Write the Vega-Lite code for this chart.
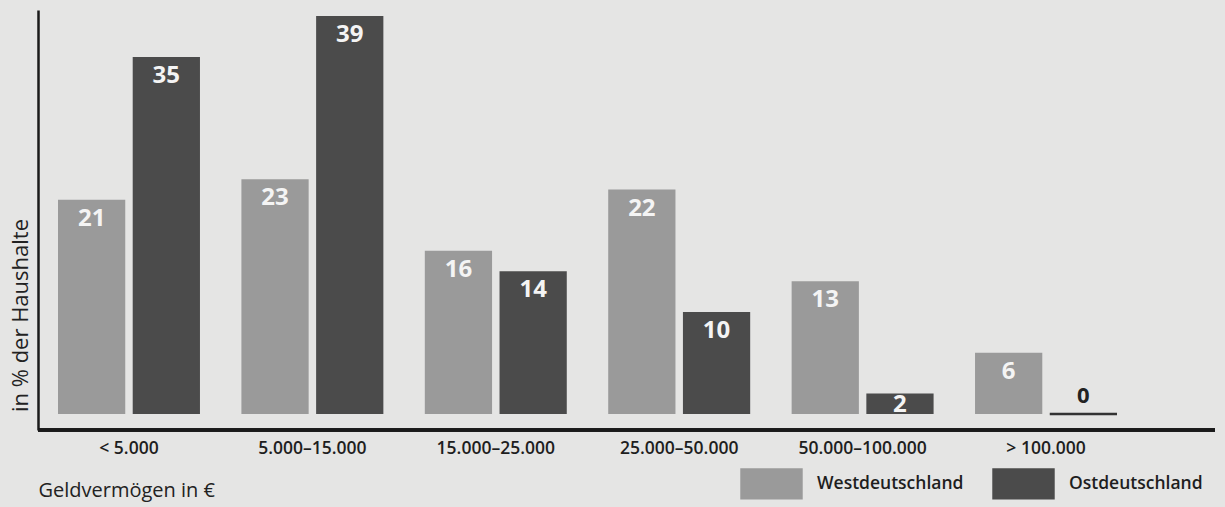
{
  "$schema": "https://vega.github.io/schema/vega-lite/v6.json",
  "width": 1177,
  "height": 420,
  "autosize": {"type": "none"},
  "padding": {"left": 38, "top": 10, "right": 10, "bottom": 77},
  "background": "#e5e5e4",
  "config": {"view": {"stroke": null}, "font": "Open Sans"},
  "data": {
    "values": [
      {"cat": "< 5.000", "region": "Westdeutschland", "value": 21},
      {"cat": "< 5.000", "region": "Ostdeutschland", "value": 35},
      {"cat": "5.000–15.000", "region": "Westdeutschland", "value": 23},
      {"cat": "5.000–15.000", "region": "Ostdeutschland", "value": 39},
      {"cat": "15.000–25.000", "region": "Westdeutschland", "value": 16},
      {"cat": "15.000–25.000", "region": "Ostdeutschland", "value": 14},
      {"cat": "25.000–50.000", "region": "Westdeutschland", "value": 22},
      {"cat": "25.000–50.000", "region": "Ostdeutschland", "value": 10},
      {"cat": "50.000–100.000", "region": "Westdeutschland", "value": 13},
      {"cat": "50.000–100.000", "region": "Ostdeutschland", "value": 2},
      {"cat": "> 100.000", "region": "Westdeutschland", "value": 6},
      {"cat": "> 100.000", "region": "Ostdeutschland", "value": 0}
    ]
  },
  "encoding": {
    "x": {
      "field": "cat", "type": "nominal", "sort": null,
      "scale": {"range": [20, 1079], "paddingInner": 0.226, "paddingOuter": 0},
      "axis": {
        "title": "Geldvermögen in €", "titleAnchor": "start", "titleAlign": "left", "titleX": 0,
        "titleFontSize": 20, "titleFontWeight": "normal", "titleColor": "#222", "titlePadding": 24,
        "labelAngle": 0, "labelFontSize": 17.5, "labelFontWeight": 600, "labelColor": "#1e1e1e",
        "labelPadding": 9, "ticks": false, "domain": false,
        "grid": false, "offset": 0
      }
    },
    "xOffset": {"field": "region", "sort": ["Westdeutschland", "Ostdeutschland"], "scale": {"paddingInner": 0.1}},
    "y": {
      "field": "value", "type": "quantitative",
      "scale": {"domain": [-1.57, 39.6], "nice": false, "zero": false},
      "axis": {
        "title": "in % der Haushalte", "titleFontSize": 22, "titleFontWeight": 500, "titleColor": "#222",
        "titleX": -18, "titleY": 305, "titleAlign": "center", "titleBaseline": "middle", "titleAngle": -90,
        "labels": false, "ticks": false, "grid": false, "domainColor": "#1a1a1a", "domainWidth": 2.5
      }
    }
  },
  "layer": [
    {
      "mark": {"type": "bar"},
      "encoding": {
        "y2": {"datum": 0},
        "color": {
          "field": "region", "type": "nominal",
          "scale": {"domain": ["Westdeutschland", "Ostdeutschland"], "range": ["#9a9a9a", "#4b4b4b"]},
          "legend": {
            "title": null, "orient": "none", "direction": "horizontal",
            "legendX": 702, "legendY": 442,
            "symbolType": "M-1,-0.5H1V0.5H-1Z", "symbolSize": 3900, "symbolStrokeWidth": 0,
            "symbolOpacity": 1,
            "labelFontSize": 17.5, "labelFontWeight": 600, "labelColor": "#1e1e1e",
            "labelOffset": 14, "columnPadding": 28, "labelLimit": 300
          }
        }
      }
    },
    {
      "mark": {"type": "rule", "color": "#1a1a1a", "strokeWidth": 2.5},
      "encoding": {"x": {"value": 0}, "x2": {"value": 1177}, "y": {"datum": -1.57}, "xOffset": null}
    },
    {
      "transform": [{"filter": "datum.value == 0"}],
      "mark": {"type": "bar", "fill": "#333333", "stroke": "#333333", "strokeWidth": 2.5},
      "encoding": {"y2": {"datum": 0}}
    },
    {
      "transform": [{"filter": "datum.value > 5"}],
      "mark": {"type": "text", "baseline": "middle", "dy": 19, "fontSize": 24, "fontWeight": "bold", "color": "#f4f4f4"},
      "encoding": {"text": {"field": "value", "type": "quantitative"}}
    },
    {
      "transform": [{"filter": "datum.value > 0 && datum.value <= 5"}],
      "mark": {"type": "text", "baseline": "middle", "dy": 11, "fontSize": 24, "fontWeight": "bold", "color": "#f4f4f4"},
      "encoding": {"text": {"field": "value", "type": "quantitative"}}
    },
    {
      "transform": [{"filter": "datum.value == 0"}],
      "mark": {"type": "text", "baseline": "middle", "dy": -18, "fontSize": 22, "fontWeight": "bold", "color": "#222222"},
      "encoding": {"text": {"field": "value", "type": "quantitative"}}
    }
  ]
}
